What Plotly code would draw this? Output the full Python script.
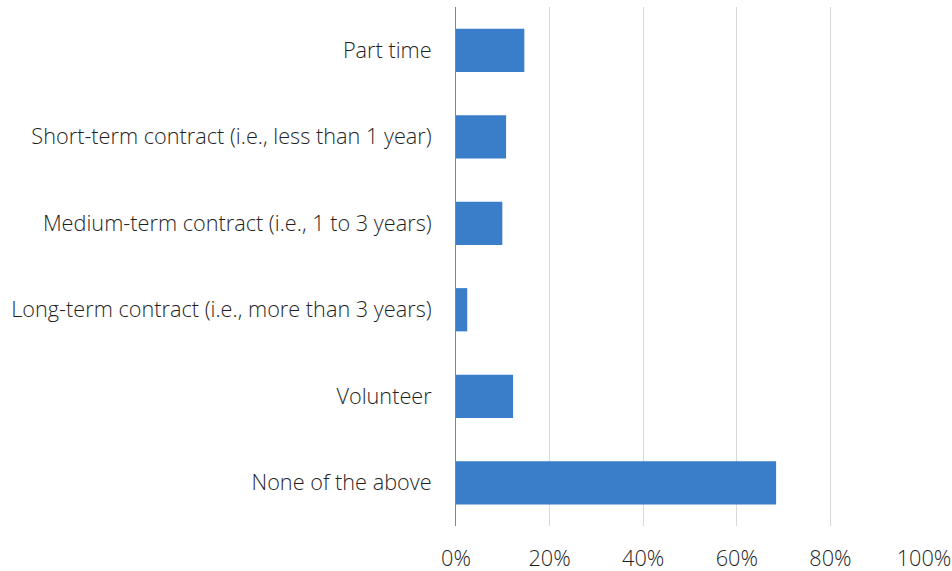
import plotly.graph_objects as go

categories = [
    "Part time",
    "Short-term contract (i.e., less than 1 year)",
    "Medium-term contract (i.e., 1 to 3 years)",
    "Long-term contract (i.e., more than 3 years)",
    "Volunteer",
    "None of the above",
]
values = [0.146, 0.107, 0.099, 0.024, 0.122, 0.684]
x_ticks = [0, 0.2, 0.4, 0.6, 0.8, 1.0]
x_tick_labels = ["0%", "20%", "40%", "60%", "80%", "100%"]

FONT = "Open Sans"
TICKFONT = dict(family=FONT, size=21.7, color="#1F1F1F", weight=300)

fig = go.Figure(
    go.Bar(
        x=values,
        y=categories,
        orientation="h",
        marker=dict(color="#3A7DC9", line=dict(width=0)),
        hoverinfo="skip",
    )
)

fig.update_layout(
    width=952,
    height=571,
    margin=dict(l=456, r=28, t=7, b=45, pad=0, autoexpand=False),
    plot_bgcolor="white",
    paper_bgcolor="white",
    bargap=0.5,
    showlegend=False,
    font=TICKFONT,
)

fig.update_xaxes(
    range=[0, 1],
    tickvals=x_ticks,
    ticktext=x_tick_labels,
    showgrid=True,
    gridcolor="#D9D9D9",
    gridwidth=1,
    zeroline=False,
    showline=False,
    ticks="",
    ticklabelstandoff=17,
    tickfont=TICKFONT,
)

fig.update_yaxes(
    categoryorder="array",
    categoryarray=categories,
    autorange="reversed",
    showgrid=False,
    zeroline=False,
    showline=True,
    linecolor="#868686",
    linewidth=1,
    ticks="",
    ticklabelstandoff=19,
    tickfont=TICKFONT,
)

fig.write_html(
    "out.html",
    config={"displayModeBar": False},
    post_script="document.body.style.margin='0';document.body.style.overflow='hidden';",
)
